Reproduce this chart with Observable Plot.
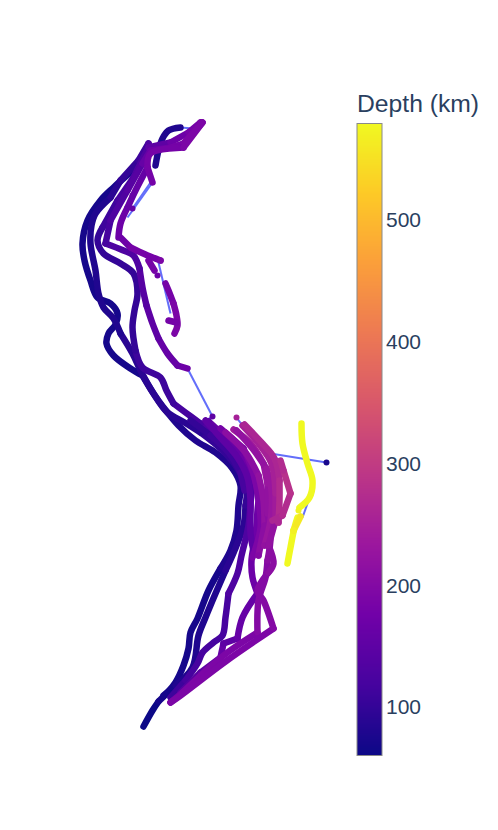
<!DOCTYPE html>
<html><head><meta charset="utf-8">
<script src="https://cdn.jsdelivr.net/npm/d3@7"></script>
<script src="https://cdn.jsdelivr.net/npm/@observablehq/plot@0.6"></script>
<style>html,body{margin:0;padding:0;background:#fff;overflow:hidden}#c{display:flex;width:498px;height:830px}svg{display:block}</style>
</head><body><div id="c"></div><script>
// rows: [east, south, depth km]
const strandA=[[143,726,62],[152,710,64],[158,701,65],[166,693,66],[175,682,68],[183,665,70],[188,648,71],[190,632,72],[197,618,73],[208,590,74],[220,568,76],[230,550,78],[236,530,80],[238,505,82],[240,485,84],[232,468,84],[215,452,82],[195,440,80],[178,425,78],[163,407,76],[153,393,75],[142,375,74],[130,368,74],[113,355,72],[106,343,72],[108,333,72],[115,324,72],[117,313,72],[110,303,72],[97,297,72],[90,280,72],[84,260,72],[82,243,72],[87,220,72],[100,200,72],[113,187,72],[132,170,72]];
const hook=[[155,165,80],[158,150,78],[162,138,78],[168,130,78],[180,127,80]];
const strandB=[[163,695,72],[175,685,76],[192,667,78],[198,635,80],[205,617,82],[215,593,84],[225,570,86],[234,550,88],[243,525,92],[245,505,96],[246,488,98],[237,468,98],[222,450,96],[200,432,94],[184,422,92],[167,412,90],[153,393,88],[140,370,86],[132,353,86],[120,333,84],[113,318,84],[103,307,84],[98,293,84],[95,270,84],[90,243,84],[91,225,84],[95,213,84],[110,197,90],[120,180,96],[138,160,110],[148,143,125]];
const strandC=[[170,697,110],[185,680,115],[197,663,118],[202,652,120],[213,642,122],[222,635,124],[225,617,124],[228,593,126],[237,573,128],[241,555,130],[248,525,130],[250,503,132],[252,485,135],[243,465,135],[228,447,130],[212,432,125],[200,423,120],[185,412,116],[173,403,112],[166,390,110],[160,377,108],[142,367,106],[135,350,104],[132,327,102],[134,310,102],[137,293,102],[133,273,102],[120,263,102],[103,253,100],[97,240,100],[102,227,105],[117,200,115],[133,177,130],[148,147,150],[170,142,170],[188,132,180],[200,122,185]];
const strandD=[[180,692,140],[200,672,150],[220,657,155],[223,643,150],[237,638,155],[242,617,155],[257,593,165],[252,577,165],[251,560,165],[255,535,165],[257,510,168],[258,490,170],[249,470,165],[238,450,160],[222,434,155],[208,421,150]];
const strandD2=[[187,368,165],[177,365,160],[167,353,155],[158,338,150],[152,323,145],[146,305,140],[142,287,135],[139,268,130],[133,255,125],[123,250,125],[105,243,120],[110,220,125],[127,190,140],[142,163,160],[150,150,170],[170,147,180],[183,143,185],[202,122,190]];
const strandE=[[170,702,180],[182,692,185],[223,655,190],[257,632,195],[258,600,195],[265,577,200],[267,560,205],[270,537,210],[267,513,220],[267,483,230],[263,463,235],[250,443,235],[233,429,235]];
const strandF=[[170,702,185],[180,695,190],[225,661,190],[273,628,195],[263,600,195],[257,590,195],[268,572,205],[273,563,210],[268,545,215],[275,520,235],[275,493,245],[271,463,250],[258,443,250],[242,425,250]];
const strandG=[[272,520,260],[282,515,270],[290,493,275],[283,470,270],[280,460,265]];
const strandN1=[[120,237,170],[130,247,175],[145,254,180],[160,260,185]];
const strandN2=[[118,237,165],[120,223,165],[127,207,160],[135,190,155],[147,167,175],[150,153,180],[183,147,190],[202,122,190]];
const strandN3=[[152,182,175],[147,167,175]];
const strandS=[[148,260,175],[154,270,175]];
const strandS2=[[165,283,180],[168,290,182],[173,303,185],[176,315,190],[177,325,190],[174,333,188]];
const strandS3=[[168,320,175],[176,322,180]];
const strandM1=[[205,420,150],[220,437,150],[237,457,150],[247,477,150],[250,500,150],[250,533,150],[253,550,150]];
const strandM2=[[220,428,180],[243,448,185],[253,473,190],[258,500,190],[260,527,190],[252,557,185]];
const strandM3=[[225,432,205],[245,452,210],[258,475,215],[263,500,215],[264,525,210],[258,555,200]];
const strandM4=[[236,430,215],[252,448,220],[266,468,225],[271,490,230],[270,520,225],[264,545,215]];
const strandM5=[[244,424,255],[260,441,258],[274,458,260],[279,480,265],[279,500,265],[278,522,260]];
const strandM6=[[190,420,100],[210,435,108],[228,452,112],[240,472,115],[244,490,115]];
const yellow1=[[301,423,578],[302,443,578],[307,463,578],[312,480,578],[309,497,578],[299,507,578]];
const yellow2=[[297,517,575],[294,527,575],[290,547,575],[287,563,575]];
const yellow3=[[300,516,560],[293,530,565]];
const strands=[strandA,hook,strandB,strandC,strandD,strandD2,strandM6,strandM1,strandM2,strandM3,strandE,strandM4,strandF,strandM5,strandG,strandN1,strandN2,strandN3,strandS,strandS2,strandS3,yellow1,yellow2,yellow3];
const rows=strands.flatMap((s,k)=>s.map(p=>({x:p[0],y:p[1],depth:Math.round(p[2]/10)*10,k})));
// thin connectors
const linkX1=[326,212,187,158,127,150,236,193,302,307];
const linkY1=[462,416,368,262,217,182,417,128,517,503];
const linkX2=[270,205,212,170,152,132,242,180,307,310];
const linkY2=[453,420,416,313,182,208,425,127,503,490];
const links=linkX1.map((a,i)=>({x1:a,y1:linkY1[i],x2:linkX2[i],y2:linkY2[i]}));
const dotX=[326,212,236,157,132,132,298];
const dotY=[462,416,417,275,208,195,510];
const dotD=[72,150,250,170,160,160,575];
const dots=dotX.map((x,i)=>({x,y:dotY[i],depth:dotD[i]}));
const plasmaStops=["#0d0887","#46039f","#7201a8","#9c179e","#bd3786","#d8576b","#ed7953","#fb9f3a","#fdca26","#f0f921"];
const depthDomain=[60.6,579.7];
const colorTicks=[100,200,300,400,500];
const colorOpt={type:"linear",domain:depthDomain,interpolate:d3.piecewise(d3.interpolateRgb,plasmaStops)};
const main=Plot.plot({width:344,height:830,margin:0,
  x:{domain:[0,344],range:[0,344],axis:null},
  y:{domain:[0,830],range:[0,830],axis:null},
  color:colorOpt,
  marks:[
    Plot.link(links,{x1:"x1",y1:"y1",x2:"x2",y2:"y2",stroke:"#636efa",strokeWidth:2}),
    Plot.line(rows,{x:"x",y:"y",z:"k",stroke:"depth",strokeWidth:6.5,curve:"catmull-rom",strokeLinecap:"round",strokeLinejoin:"round"}),
    Plot.dot(dots,{x:"x",y:"y",r:3,fill:"depth",stroke:null})
  ]});
const ramp=d3.range(60,580,1).map(d=>({a:d,b:d+1.5}));
const bar=Plot.plot({width:154,height:830,marginLeft:12.5,marginRight:116.5,marginTop:123,marginBottom:75,
  style:{fontFamily:"'Liberation Sans',Arial,sans-serif",background:"transparent"},
  x:{domain:[0,1],axis:null},
  y:{domain:depthDomain,axis:null},
  color:colorOpt,
  marks:[
    Plot.rect(ramp,{x1:0,x2:1,y1:d=>Math.max(d.a,depthDomain[0]),y2:d=>Math.min(d.b,depthDomain[1]),fill:"a",shapeRendering:"crispEdges"}),
    Plot.frame({stroke:"#8a8a8a",strokeWidth:1}),
    Plot.axisY(colorTicks,{anchor:"right",tickSize:0,tickPadding:4,fontSize:21,color:"#2a3f5f",label:null}),
    Plot.text(["Depth (km)"],{frameAnchor:"top-left",dy:-29,textAnchor:"start",fontSize:24.7,fill:"#2a3f5f"})
  ]});
const c=document.getElementById("c");c.append(main,bar);
</script></body></html>
